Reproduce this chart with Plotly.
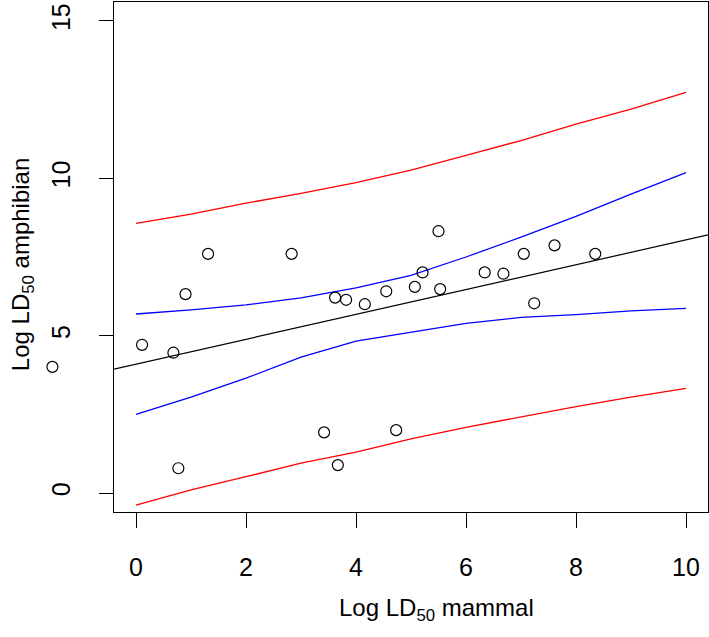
import plotly.graph_objects as go

# Observed points (log LD50 mammal, log LD50 amphibian)
mammal = [-1.52, 0.11, 0.68, 0.77, 0.90, 1.31, 2.83, 3.42, 3.62, 3.67, 3.82, 4.16,
          4.55, 4.73, 5.07, 5.21, 5.50, 5.53, 6.34, 6.68, 7.05, 7.24, 7.61, 8.35]
amphibian = [4.01, 4.71, 4.46, 0.79, 6.32, 7.60, 7.60, 1.93, 6.21, 0.89, 6.14, 6.00,
             6.41, 2.00, 6.55, 7.01, 8.32, 6.48, 7.01, 6.97, 7.60, 6.03, 7.87, 7.60]

# Fitted regression line (spans the full plot width)
fit_x = [-0.4, 10.4]
fit_y = [3.94, 8.20]

# Interval curves read at x = 0..10
band_x = [0, 1, 2, 3, 4, 5, 6, 7, 8, 9, 10]
conf_upper = [5.69, 5.82, 5.98, 6.20, 6.52, 6.92, 7.50, 8.13, 8.79, 9.50, 10.18]
conf_lower = [2.50, 3.05, 3.65, 4.32, 4.83, 5.10, 5.39, 5.58, 5.67, 5.79, 5.87]
pred_upper = [8.57, 8.86, 9.21, 9.52, 9.86, 10.26, 10.73, 11.20, 11.72, 12.20, 12.73]
pred_lower = [-0.38, 0.10, 0.52, 0.95, 1.30, 1.72, 2.09, 2.42, 2.75, 3.05, 3.33]

x_ticks = [0, 2, 4, 6, 8, 10]
y_ticks = [0, 5, 10, 15]

FONT = "Liberation Sans, Arial, Helvetica, sans-serif"

# layout geometry (pixels)
W, H = 709, 637
ML, MR, MT, MB = 0, 1, 2, 125
BOX_LEFT = 114
plot_w = W - ML - MR
x_range = [-0.4, 10.4]
y_range = [-0.6, 15.6]
x_dom_start = BOX_LEFT / plot_w
px_per_unit = (plot_w - BOX_LEFT) / (x_range[1] - x_range[0])
x2_range = [x_range[0] - BOX_LEFT / px_per_unit, x_range[1]]

fig = go.Figure()
fig.add_trace(go.Scatter(x=band_x, y=pred_upper, mode="lines",
                         line=dict(color="#FF0000", width=1.3)))
fig.add_trace(go.Scatter(x=band_x, y=pred_lower, mode="lines",
                         line=dict(color="#FF0000", width=1.3)))
fig.add_trace(go.Scatter(x=band_x, y=conf_upper, mode="lines",
                         line=dict(color="#0000FF", width=1.3)))
fig.add_trace(go.Scatter(x=band_x, y=conf_lower, mode="lines",
                         line=dict(color="#0000FF", width=1.3)))
fig.add_trace(go.Scatter(x=fit_x, y=fit_y, mode="lines",
                         line=dict(color="black", width=1.2)))
# markers on a full-width twin subplot so the point left of the box is still drawn
fig.add_trace(go.Scatter(x=mammal, y=amphibian, mode="markers", xaxis="x2", yaxis="y2",
                         cliponaxis=False,
                         marker=dict(symbol="circle-open", size=11,
                                     color="black", line=dict(width=1.2, color="black"))))

fig.update_layout(
    width=W, height=H,
    margin=dict(l=ML, r=MR, t=MT, b=MB),
    paper_bgcolor="white", plot_bgcolor="rgba(0,0,0,0)",
    showlegend=False,
    font=dict(family=FONT, size=24, color="black"),
    xaxis=dict(domain=[x_dom_start, 1], range=x_range, anchor="y",
               tickvals=x_ticks, ticktext=[str(v) for v in x_ticks],
               showgrid=False, zeroline=False, showline=True, mirror=True,
               linecolor="black", linewidth=1, ticks="outside", ticklen=15,
               tickwidth=1, tickcolor="black", ticklabelstandoff=18,
               tickfont=dict(family=FONT, size=25, color="black")),
    yaxis=dict(domain=[0, 1], range=y_range, anchor="x",
               tickvals=y_ticks, ticktext=[str(v) for v in y_ticks],
               showgrid=False, zeroline=False, showline=True, mirror=True,
               linecolor="black", linewidth=1, ticks="outside", ticklen=14,
               tickwidth=1, tickcolor="black", tickangle=-90, ticklabelstandoff=19,
               tickfont=dict(family=FONT, size=25, color="black")),
    xaxis2=dict(domain=[0, 1], range=x2_range, anchor="y2", visible=False,
                showgrid=False, zeroline=False),
    yaxis2=dict(domain=[0, 1], range=y_range, anchor="x2", visible=False,
                showgrid=False, zeroline=False),
    annotations=[
        dict(text="Log LD<sub>50</sub> mammal", xref="paper", yref="paper",
             x=436 / plot_w, y=-0.192, xanchor="center", yanchor="middle", showarrow=False,
             font=dict(family=FONT, size=24, color="black")),
        dict(text="Log LD<sub>50</sub> amphibian", xref="paper", yref="paper",
             x=22 / plot_w, y=0.484, xanchor="center", yanchor="middle", showarrow=False,
             textangle=-90, font=dict(family=FONT, size=24, color="black")),
    ],
)

fig.write_html("out.html", config={"displayModeBar": False},
               post_script="document.body.style.margin='0';")
